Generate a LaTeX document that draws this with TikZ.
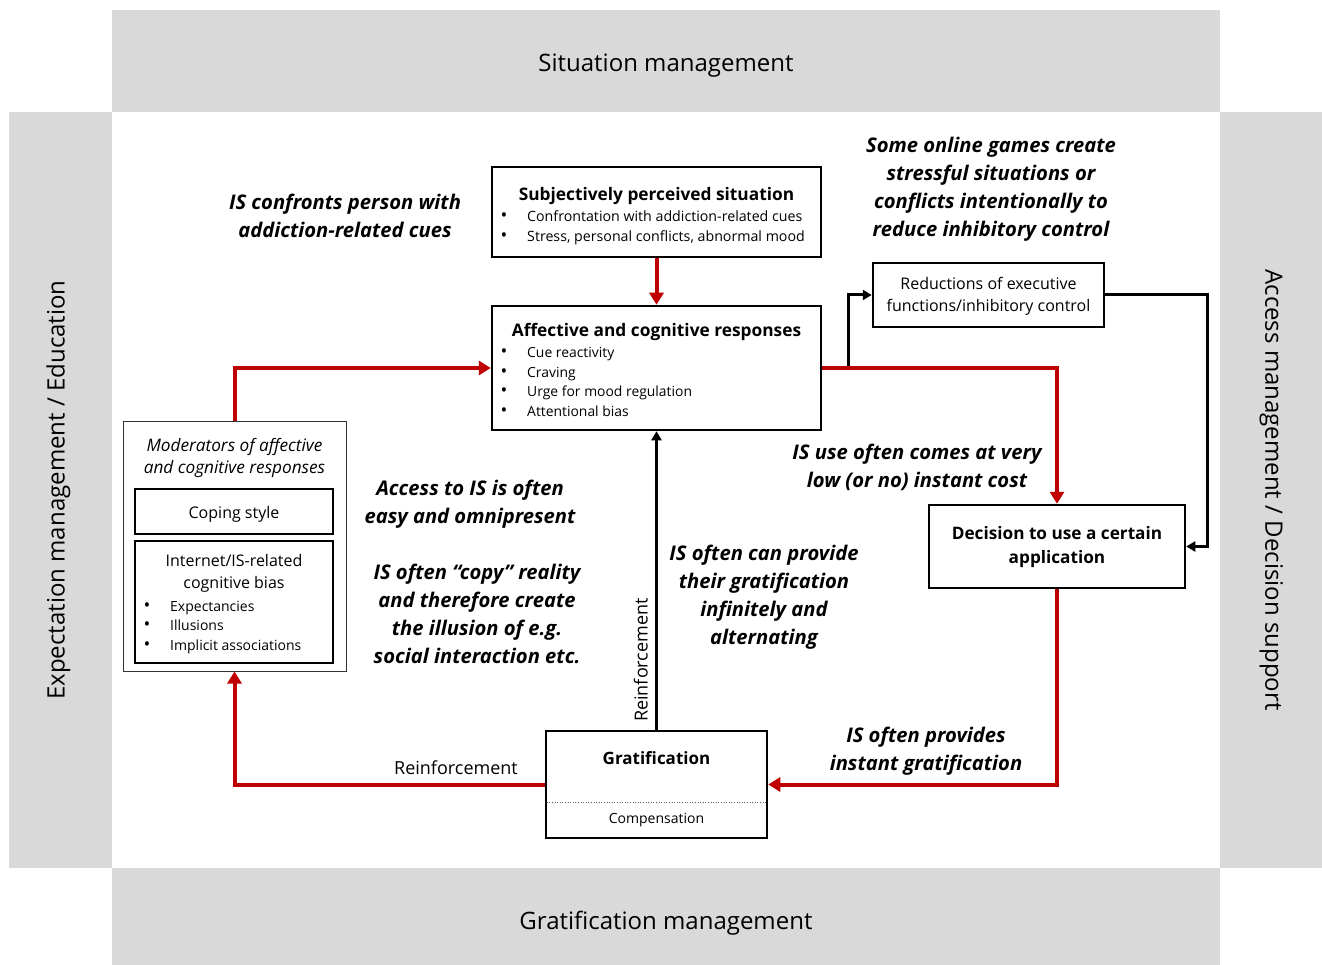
\documentclass[tikz,border=0pt]{standalone}
\usepackage{fontspec}
\setmainfont{Open Sans}
\usetikzlibrary{arrows.meta}
\definecolor{band}{HTML}{D9D9D9}
\definecolor{arrred}{HTML}{C00000}
\tikzset{
  box/.style={draw=black, line width=2.5pt, fill=white, inner sep=0pt},
  thinbox/.style={draw=black!80, line width=1pt, fill=white, inner sep=0pt},
  bandtxt/.style={font=\fontsize{24}{28}\selectfont, anchor=mid, inner sep=0pt},
  ttl/.style={font=\fontsize{17.3}{22}\selectfont\bfseries, anchor=mid, inner sep=0pt},
  bl/.style={font=\fontsize{14.2}{18}\selectfont, anchor=mid west, inner sep=0pt},
  bdot/.style={font=\fontsize{18}{18}\selectfont, anchor=mid, inner sep=0pt},
  plain/.style={font=\fontsize{16}{22}\selectfont, anchor=mid, inner sep=0pt, align=center},
  multi/.style={font=\fontsize{16}{22}\selectfont, anchor=center, inner sep=0pt, align=center},
  lab/.style={font=\fontsize{20.2}{28}\selectfont\bfseries\itshape, align=center, inner sep=0pt},
  redarrow/.style={draw=arrred, line width=4pt, -{Triangle[length=12pt,width=14pt]}},
  blkarrow/.style={draw=black, line width=3pt, -{Triangle[length=9pt,width=10pt]}},
}
\begin{document}
\begin{tikzpicture}[x=1pt,y=-1pt]
\useasboundingbox (0,0) rectangle (1322,965);
\fill[white] (0,0) rectangle (1322,965);
% bands
\fill[band] (112,10) rectangle (1220,112);
\fill[band] (112,868) rectangle (1220,965);
\fill[band] (9,112) rectangle (112,868);
\fill[band] (1220,112) rectangle (1322,868);
\node[bandtxt] (sitm) at (666,69) {Situation management};
\node[bandtxt] (gram) at (666,927) {Gratification management};
\node[bandtxt, rotate=90] (expm) at (62,490) {Expectation management / Education};
\node[bandtxt, rotate=-90] (accm) at (1268,490) {Access management / Decision support};

% boxes
\node[box, minimum width=329pt, minimum height=90pt] (subj) at (656.5,212) {};
\node[box, minimum width=329pt, minimum height=124pt] (aff) at (656.5,368) {};
\node[box, minimum width=231pt, minimum height=64pt] (red) at (988.5,295) {};
\node[box, minimum width=256pt, minimum height=83pt] (dec) at (1057,546.5) {};
\node[box, minimum width=221pt, minimum height=107pt] (grat) at (656.5,784.5) {};
\node[thinbox, minimum width=223pt, minimum height=250pt] (mod) at (234.5,546) {};
\node[box, minimum width=198pt, minimum height=45pt] (cop) at (234,511.5) {};
\node[box, minimum width=198pt, minimum height=122pt] (inet) at (234,602) {};

% connectors
\draw[redarrow] (subj.south) -- (aff.north);
\draw[redarrow] (mod.north) |- (aff.west);
\draw[blkarrow] (aff.east) -- ++(26,0) |- (red.west);
\draw[redarrow] (aff.east) -| (dec.north);
\draw[blkarrow] (red.east) -- ++(102,0) |- (dec.east);
\draw[redarrow] (dec.south) |- (grat.east);
\draw[redarrow] (grat.west) -| (mod.south);
\draw[blkarrow] (grat.north) -- (aff.south);

% texts in subj
\node[ttl] (subjT) at (656.5,198) {Subjectively perceived situation};
\node[bdot] (sb1) at (504,219) {\textbullet};
\node[bl] (st1) at (527,219) {Confrontation with addiction-related cues};
\node[bdot] (sb2) at (504,239) {\textbullet};
\node[bl] (st2) at (527,239) {Stress, personal conflicts, abnormal mood};

% texts in aff
\node[ttl] (affT) at (656.5,334) {Affective and cognitive responses};
\node[bdot] (ab1) at (504,355) {\textbullet};
\node[bl, font=\fontsize{13.9}{18}\selectfont] (at1) at (527,355) {Cue reactivity};
\node[bdot] (ab2) at (504,375) {\textbullet};
\node[bl, font=\fontsize{13.9}{18}\selectfont] (at2) at (527,375) {Craving};
\node[bdot] (ab3) at (504,394) {\textbullet};
\node[bl, font=\fontsize{13.9}{18}\selectfont] (at3) at (527,394) {Urge for mood regulation};
\node[bdot] (ab4) at (504,414) {\textbullet};
\node[bl, font=\fontsize{13.9}{18}\selectfont] (at4) at (527,414) {Attentional bias};

% reductions
\node[multi] (redT) at (988.5,296) {Reductions of executive\\functions/inhibitory control};

% decision
\node[multi, font=\fontsize{17.2}{24}\selectfont\bfseries] (decT) at (1057,547) {Decision to use a certain\\application};

% gratification
\node[ttl, font=\fontsize{17}{22}\selectfont\bfseries] (gratT) at (656.5,762) {Gratification};
\draw[dotted, line width=0.6pt, black!60] ([xshift=2pt,yshift=37pt]grat.south west) -- ([xshift=-2pt,yshift=37pt]grat.south east);
\node[plain, font=\fontsize{14}{18}\selectfont] (compT) at (656.5,821) {Compensation};

% moderators
\node[multi, font=\fontsize{17.2}{22}\selectfont\itshape] (modT) at (234.5,458) {Moderators of affective\\and cognitive responses};
\node[plain] (copT) at (234,516) {Coping style};
\node[multi] (inetT) at (234,573) {Internet/IS-related\\cognitive bias};
\node[bdot] (ib1) at (147,609) {\textbullet};
\node[bl, font=\fontsize{14}{18}\selectfont] (it1) at (170,609) {Expectancies};
\node[bdot] (ib2) at (147,628) {\textbullet};
\node[bl, font=\fontsize{14}{18}\selectfont] (it2) at (170,628) {Illusions};
\node[bdot] (ib3) at (147,648) {\textbullet};
\node[bl, font=\fontsize{14}{18}\selectfont] (it3) at (170,648) {Implicit associations};

% reinforcement labels
\node[plain, font=\fontsize{18}{22}\selectfont] (reinH) at (456,772) {Reinforcement};
\node[plain, font=\fontsize{18}{22}\selectfont, rotate=90] (reinV) at (645,660) {Reinforcement};

% italic labels
\node[lab] (l1) at (345,216) {IS confronts person with\\addiction-related cues};
\node[lab] (l2) at (991,189) {Some online games create\\stressful situations or\\conflicts intentionally to\\reduce inhibitory control};
\node[lab] (l3) at (917,467) {IS use often comes at very\\low (or no) instant cost};
\node[lab] (l4) at (470,504) {Access to IS is often\\easy and omnipresent};
\node[lab] (l5) at (477,614) {IS often “copy” reality\\and therefore create\\the illusion of e.g.\\social interaction etc.};
\node[lab] (l6) at (764,597) {IS often can provide\\their gratification\\infinitely and\\alternating};
\node[lab] (l7) at (926,751) {IS often provides\\instant gratification};
\end{tikzpicture}
\end{document}
